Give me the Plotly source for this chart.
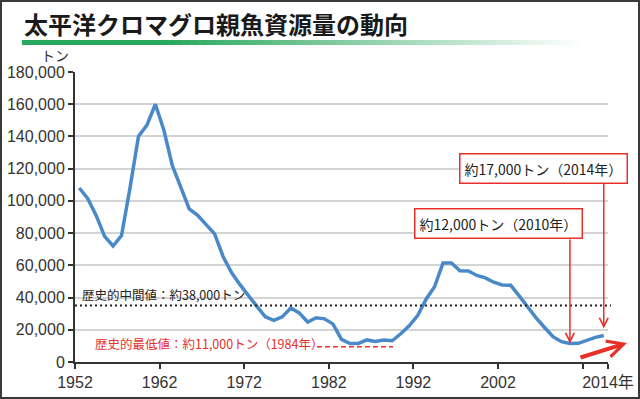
import plotly.graph_objects as go

# ---------------- data ----------------
years = list(range(1952, 2015))
biomass = [
    108000, 101500, 91000, 78000, 72000, 78500, 108000, 140000, 147000, 160000,  # 1952-1961
    144000, 122000, 108500, 95000, 91000, 85000, 79500, 65500, 55500, 48000,      # 1962-1971
    41000, 34500, 28000, 25800, 28000, 33500, 30500, 24800, 27500, 26800,         # 1972-1981
    23500, 14000, 11500, 11500, 13700, 12800, 13700, 13200, 17500, 22500,         # 1982-1991
    28800, 39000, 46700, 61500, 61500, 56600, 56500, 53700, 52200, 49500,         # 1992-2001
    47800, 47600, 41000, 33800, 27400, 21400, 15700, 12600, 11500, 11600,         # 2002-2011
    13400, 15300, 16500,                                                          # 2012-2014
]
tick_positions = [1951.5, 1961.5, 1971.5, 1981.5, 1991.5, 2001.5, 2011.5, 2014.5]
tick_labels = ["1952", "1962", "1972", "1982", "1992", "2002", "", "2014年"]
y_ticks = list(range(0, 180001, 20000))

median_level = 35000          # dotted "historical median" line as drawn
low_level = 9500              # red dashed "historical low" line as drawn
low_line_years = [1980.1, 1989.1]

title_text = "太平洋クロマグロ親魚資源量の動向"
unit_text = "トン"
median_text = "歴史的中間値：約38,000トン"
low_text = "歴史的最低値：約11,000トン（1984年）"
callouts = [
    # text, box centre (year, value), arrow year, arrow tail value, standoff px
    ("約12,000トン（2010年）", 2001.5, 85700, 2010, 77000, 0),
    ("約17,000トン（2014年）", 2006.9, 120400, 2014, 111900, 7),
]

# ---------------- layout geometry ----------------
W, H = 640, 399
L, R, T, B = 75, 32, 72, 37
PW, PH = W - L - R, H - T - B


def px2x(px):
    return (px - L) / PW


def px2y(py):
    return (H - B - py) / PH


RED = "#e8302a"
BLUE = "#4a89c8"
CJK = "Noto Sans CJK JP"
LAT = "Liberation Sans, Arial, sans-serif"

fig = go.Figure()
fig.add_trace(go.Scatter(
    x=years, y=biomass, mode="lines",
    line=dict(color=BLUE, width=3.5),
    hoverinfo="skip", showlegend=False,
))

shapes = []
# median dotted line
shapes.append(dict(type="line", xref="paper", yref="y", x0=0, x1=px2x(611),
                   y0=median_level, y1=median_level,
                   line=dict(color="#222222", width=2, dash="2px,3px")))
# low dashed red line
shapes.append(dict(type="line", xref="x", yref="y", x0=low_line_years[0], x1=low_line_years[1],
                   y0=low_level, y1=low_level,
                   line=dict(color=RED, width=1.5, dash="5px,3px")))

# green gradient bar under title
n = 70
x_start, x_end, y0, y1 = 22, 586, 40, 45
g = (40, 168, 92)
for i in range(n):
    a = x_start + (x_end - x_start) * i / n
    b = x_start + (x_end - x_start) * (i + 1) / n + 0.6
    t = i / (n - 1)
    fade = 1.0 if t < 0.25 else max(0.0, 1 - (t - 0.25) / 0.75)
    c = tuple(int(255 - (255 - ch) * fade) for ch in g)
    shapes.append(dict(type="rect", xref="paper", yref="paper",
                       x0=px2x(a), x1=px2x(b), y0=px2y(y1), y1=px2y(y0),
                       line=dict(width=0), fillcolor="rgb(%d,%d,%d)" % c, layer="above"))

# outer frame
shapes.append(dict(type="rect", xref="paper", yref="paper",
                   x0=px2x(1), x1=px2x(639), y0=px2y(398), y1=px2y(1),
                   line=dict(color="#3a3a3a", width=2), fillcolor="rgba(0,0,0,0)"))

annotations = []
annotations.append(dict(text="<b>" + title_text + "</b>", xref="paper", yref="paper",
                        x=px2x(22), y=px2y(23), xanchor="left", yanchor="middle",
                        showarrow=False, font=dict(family=CJK, size=24, color="#1a1a1a")))
annotations.append(dict(text=unit_text, xref="paper", yref="paper",
                        x=px2x(55), y=px2y(55), xanchor="center", yanchor="middle",
                        showarrow=False, font=dict(family=CJK, size=14, color="#333333")))
annotations.append(dict(text=median_text, xref="paper", yref="y",
                        x=px2x(80), y=41600, xanchor="left", yanchor="middle",
                        showarrow=False, font=dict(family=CJK, size=12.5, color="#222222")))
annotations.append(dict(text=low_text, xref="paper", yref="y",
                        x=px2x(93), y=11200, xanchor="left", yanchor="middle",
                        showarrow=False, font=dict(family=CJK, size=12.5, color=RED)))

for text, bx, by, ayear, tail, standoff in callouts:
    annotations.append(dict(text=text, xref="x", yref="y", x=bx, y=by,
                            xanchor="center", yanchor="middle", showarrow=False,
                            font=dict(family=CJK, size=14, color="#222222"),
                            bgcolor="white", bordercolor=RED, borderwidth=1.5, borderpad=4))
    tip = biomass[years.index(ayear)]
    annotations.append(dict(text="", xref="x", yref="y", x=ayear, y=tip,
                            axref="x", ayref="y", ax=ayear, ay=tail,
                            showarrow=True, arrowhead=5, arrowsize=1.15, arrowwidth=1.5,
                            arrowcolor=RED, standoff=standoff))

# big rising arrow at lower right
annotations.append(dict(text="", xref="paper", yref="paper", x=px2x(627), y=px2y(343),
                        ax=-48, ay=15, showarrow=True, arrowhead=5, arrowsize=0.8,
                        arrowwidth=4, arrowcolor=RED))

fig.update_layout(
    width=W, height=H,
    margin=dict(l=L, r=R, t=T, b=B),
    paper_bgcolor="white", plot_bgcolor="white",
    shapes=shapes, annotations=annotations,
    showlegend=False,
    xaxis=dict(range=[1951.5, 2014.5], tickvals=tick_positions, ticktext=tick_labels,
               showgrid=False, zeroline=False, showline=True, linecolor="#333333", linewidth=2,
               ticks="outside", ticklen=5, tickwidth=1.5, tickcolor="#333333",
               tickfont=dict(family=LAT + ", " + CJK, size=16, color="#333333"),
               automargin=False, fixedrange=True),
    yaxis=dict(range=[0, 180000], tickvals=y_ticks, tickformat=",d",
               showgrid=True, gridcolor="#d4d4d4", gridwidth=1.5, zeroline=False,
               showline=True, linecolor="#333333", linewidth=2,
               ticks="outside", ticklen=5, tickwidth=1.5, tickcolor="#333333",
               tickfont=dict(family=LAT, size=16, color="#333333"),
               automargin=False, fixedrange=True),
)

fig.write_html("out.html", config={"displayModeBar": False},
               post_script="document.body.style.margin='0';document.body.style.padding='0';")
